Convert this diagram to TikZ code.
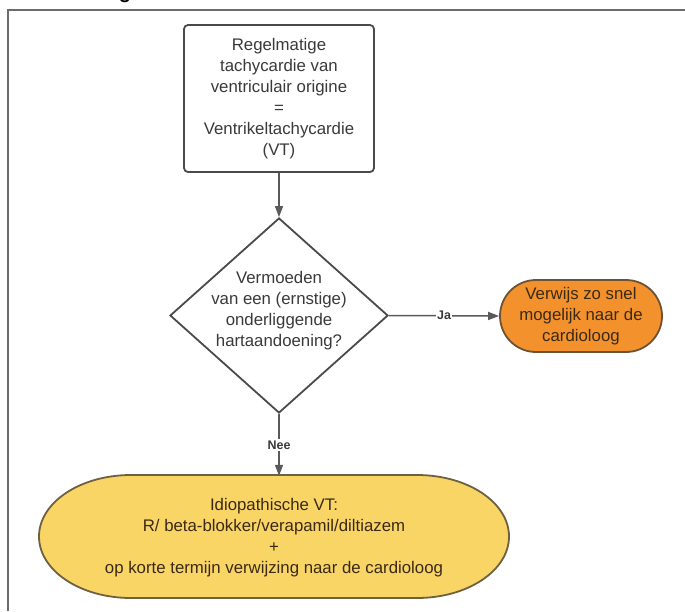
\documentclass[tikz,border=0pt]{standalone}
\usepackage{fontspec}
\setmainfont{Liberation Sans}
\usetikzlibrary{shapes.geometric,shapes.misc,arrows.meta}
\definecolor{edgegray}{HTML}{4A4A4A}
\definecolor{linkgray}{HTML}{5A5A5A}
\definecolor{textgray}{HTML}{3A3A3A}
\definecolor{orangefill}{HTML}{F3922C}
\definecolor{orangeedge}{HTML}{6E5234}
\definecolor{yellowfill}{HTML}{F9D566}
\definecolor{yellowedge}{HTML}{6E6141}
\definecolor{darkbrown}{HTML}{3B2A16}
\tikzset{
  bodytext/.style={font=\fontsize{16.8}{21}\selectfont, align=center, inner sep=0pt},
  procbox/.style={draw=edgegray, line width=1.8pt, rounded corners=4pt, fill=white,
    minimum width=190pt, minimum height=147pt, bodytext, text=textgray},
  decision/.style={diamond, draw=edgegray, line width=1.8pt, fill=white,
    minimum width=218pt, minimum height=195pt, inner sep=0pt},
  referral/.style={rounded rectangle, draw=orangeedge, line width=1.8pt, fill=orangefill,
    minimum width=162pt, minimum height=72pt, bodytext, text=darkbrown},
  terminal/.style={fill=yellowfill, draw=yellowedge, line width=1.8pt},
  link/.style={draw=linkgray, line width=1.5pt, -{Triangle[length=11pt,width=8pt]}},
  tag/.style={font=\bfseries\fontsize{12.5}{14}\selectfont, text=textgray, fill=white, inner sep=1.5pt}
}
\begin{document}
\begin{tikzpicture}[x=1pt, y=-1pt]
  \useasboundingbox (0,0) rectangle (685,611);
  \fill[white] (0,0) rectangle (685,611);

  % descender of the heading, cut off by the page edge
  \begin{scope}
    \clip (0,0) rectangle (685,4);
    \node[font=\bfseries\fontsize{20}{24}\selectfont, anchor=base] (headfrag) at (125,-2) {g};
  \end{scope}

  % outer frame
  \draw[draw=gray!85!black, line width=2pt] (8,611) -- (8,10) -- (685,10);

  % yellow end shape: flat top and bottom, elliptical sides (quarter ellipses as Bezier curves)
  \filldraw[terminal]
    (131,475) -- (417,475)
    .. controls (467.8,475) and (509,502.5) .. (509,536.5)
    .. controls (509,570.5) and (467.8,598) .. (417,598)
    -- (131,598)
    .. controls (80.2,598) and (39,570.5) .. (39,536.5)
    .. controls (39,502.5) and (80.2,475) .. (131,475) -- cycle;

  % nodes
  \node[procbox] (start) at (279,98.5) {Regelmatige\\tachycardie van\\ventriculair origine\\=\\Ventrikeltachycardie\\(VT)};

  \node[decision] (q) at (279,315.5) {};
  \node[bodytext, text=textgray] (qtext) at (279,311) {Vermoeden\\van een (ernstige)\\onderliggende\\hartaandoening?};

  \node[referral] (refer) at (581,316) {Verwijs zo snel\\mogelijk naar de\\cardioloog};

  \node[bodytext, text=darkbrown, minimum width=470pt, minimum height=123pt] (idio) at (274,537.5)
    {Idiopathische VT:\\R/ beta-blokker/verapamil/diltiazem\\+\\op korte termijn verwijzing naar de cardioloog};

  % connectors
  \draw[link] (start.south) -- (q.north);
  \draw[link] (q.east) -- node[tag] {Ja} (refer.west);
  \draw[link] (q.south) -- node[tag, pos=0.5] {Nee} (idio.north -| q.south);
\end{tikzpicture}
\end{document}
